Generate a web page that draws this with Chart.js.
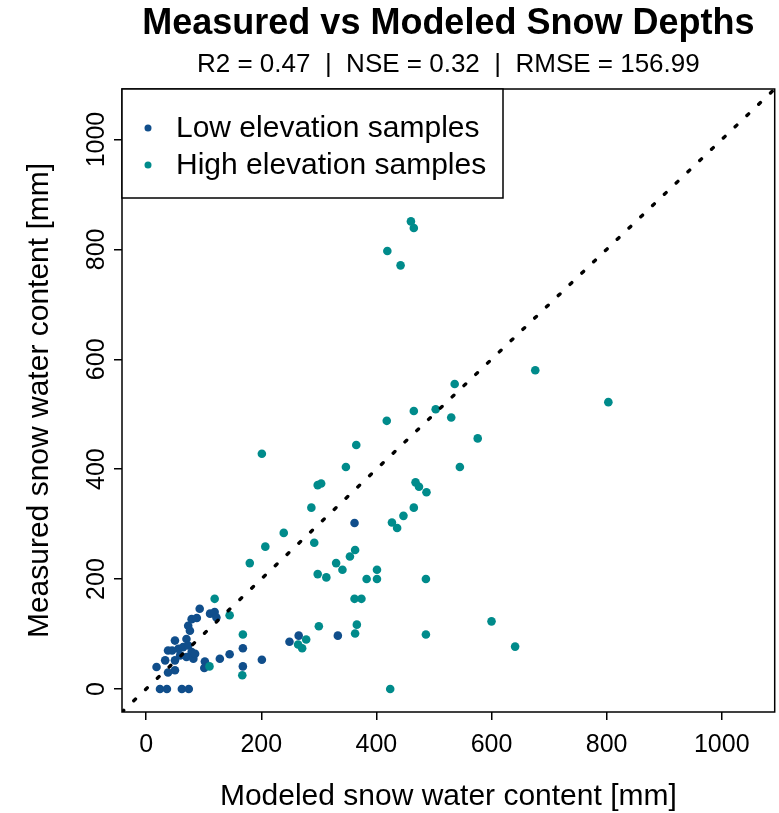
<!DOCTYPE html>
<html>
<head>
<meta charset="utf-8">
<script src="https://cdn.jsdelivr.net/npm/chart.js@4.4.1/dist/chart.umd.min.js"></script>
<style>
  html, body { margin: 0; padding: 0; background: #ffffff; }
  #wrap { width: 779px; height: 813px; }
</style>
</head>
<body>
<div id="wrap"><canvas id="c" width="779" height="813"></canvas></div>
<script>
// Labels
const chartTitle = 'Measured vs Modeled Snow Depths';
const chartSubtitle = 'R2 = 0.47  |  NSE = 0.32  |  RMSE = 156.99';
const xTitle = 'Modeled snow water content [mm]';
const yTitle = 'Measured snow water content [mm]';
const seriesNames = ['Low elevation samples', 'High elevation samples'];

// Axis ticks and range (same for both axes, 1:1 line spans the whole range)
const tickValues = [0, 200, 400, 600, 800, 1000];
const axisRange = [-42, 1092];

// Low elevation samples: modeled vs measured SWE [mm]
const lowModeled  = [18, 24, 36, 62, 74, 38, 50, 33, 50, 59, 70, 82, 38, 45, 56, 64, 79, 85, 50, 70,
                     73, 73, 76, 79, 88, 93, 111, 119, 122, 102, 101, 128, 145, 168, 168, 201, 249, 265, 333, 362];
const lowMeasured = [40, 0, 0, 0, 0, 30, 34, 52, 52, 61, 58, 55, 70, 70, 73, 76, 67, 64, 88, 91,
                     79, 115, 106, 127, 129, 146, 137, 140, 130, 50, 38, 55, 63, 74, 41, 53, 86, 97, 97, 302];

// High elevation samples: modeled vs measured SWE [mm]
const highModeled  = [119, 145, 168, 110, 167, 298, 304, 287, 239, 207, 180, 292, 363, 354, 330, 341, 298, 313, 383, 401,
                      401, 486, 362, 374, 300, 366, 363, 278, 264, 271, 486, 424, 468, 474, 487, 465, 447, 427, 436, 465,
                      418, 365, 201, 347, 460, 465, 442, 419, 536, 676, 803, 503, 530, 576, 545, 600, 641];
const highMeasured = [164, 134, 99, 41, 25, 371, 374, 330, 284, 259, 229, 266, 253, 241, 229, 217, 209, 203, 200, 217,
                      200, 200, 164, 164, 114, 117, 101, 90, 81, 74, 99, 0, 376, 368, 358, 330, 315, 303, 293, 506,
                      488, 444, 428, 404, 851, 839, 771, 797, 555, 580, 522, 509, 494, 456, 404, 123, 77];

const colLow = '#104E8B';
const colHigh = '#008B8B';
const FONT = "'Liberation Sans', Arial, Helvetica, sans-serif";

const toPoints = (xs, ys) => xs.map((x, i) => ({ x: x, y: ys[i] }));

// Plot frame, titles and legend box drawn on top of the chart
const framePlugin = {
  id: 'frame',
  afterDraw(chart) {
    const ctx = chart.ctx;
    const a = chart.chartArea;
    ctx.save();
    // full box around the plot region
    ctx.strokeStyle = '#000';
    ctx.lineWidth = 1.5;
    ctx.strokeRect(a.left, a.top, a.right - a.left, a.bottom - a.top);

    // title and subtitle centred over the plot region
    const cx = (a.left + a.right) / 2;
    ctx.fillStyle = '#000';
    ctx.textAlign = 'center';
    ctx.textBaseline = 'middle';
    ctx.font = 'bold 36px ' + FONT;
    ctx.fillText(chartTitle, cx, 24);
    ctx.font = '26px ' + FONT;
    ctx.fillText(chartSubtitle, cx, 65);

    // legend in the top-left corner
    const lx = a.left, ly = a.top, lw = 381, lh = 109;
    ctx.fillStyle = '#fff';
    ctx.fillRect(lx, ly, lw, lh);
    ctx.strokeStyle = '#000';
    ctx.lineWidth = 1.5;
    ctx.strokeRect(lx, ly, lw, lh);
    const rows = [[seriesNames[0], colLow, 39], [seriesNames[1], colHigh, 76]];
    ctx.font = '30px ' + FONT;
    ctx.textAlign = 'left';
    rows.forEach(([label, col, dy]) => {
      ctx.fillStyle = col;
      ctx.beginPath();
      ctx.arc(lx + 26, ly + dy, 3.5, 0, Math.PI * 2);
      ctx.fill();
      ctx.fillStyle = '#000';
      ctx.fillText(label, lx + 54, ly + dy + 1);
    });
    ctx.restore();
  }
};

const axisCommon = {
  type: 'linear',
  min: axisRange[0],
  max: axisRange[1],
  border: { display: false },
  grid: { drawOnChartArea: false, drawTicks: true, tickLength: 8, color: '#000', lineWidth: 1.5 },
  afterBuildTicks: (scale) => { scale.ticks = tickValues.map(v => ({ value: v })); }
};

new Chart(document.getElementById('c'), {
  type: 'scatter',
  data: {
    datasets: [
      {
        type: 'line',
        label: '1:1',
        data: [{ x: axisRange[0], y: axisRange[0] }, { x: axisRange[1], y: axisRange[1] }],
        borderColor: '#000',
        borderWidth: 3.4,
        borderDash: [2.4, 13.9],
        borderCapStyle: 'round',
        pointRadius: 0,
        fill: false
      },
      {
        label: seriesNames[1],
        data: toPoints(highModeled, highMeasured),
        backgroundColor: colHigh,
        borderWidth: 0,
        pointRadius: 4.3
      },
      {
        label: seriesNames[0],
        data: toPoints(lowModeled, lowMeasured),
        backgroundColor: colLow,
        borderWidth: 0,
        pointRadius: 4.3
      }
    ]
  },
  options: {
    responsive: false,
    devicePixelRatio: 1,
    animation: false,
    layout: { padding: { top: 89, right: 3, bottom: 0, left: 0 } },
    plugins: {
      legend: { display: false },
      title: { display: false },
      tooltip: { enabled: false }
    },
    scales: {
      x: Object.assign({}, axisCommon, {
        position: 'bottom',
        afterFit: (scale) => { scale.height = 101; },
        ticks: {
          color: '#000',
          font: { family: FONT, size: 25 },
          padding: 10,
          maxRotation: 0,
          minRotation: 0,
          callback: (v) => String(v)
        },
        title: {
          display: true,
          text: xTitle,
          color: '#000',
          font: { family: FONT, size: 30 },
          padding: { top: 0, bottom: -2 }
        }
      }),
      y: Object.assign({}, axisCommon, {
        position: 'left',
        afterFit: (scale) => { scale.width = 122; },
        ticks: {
          color: '#000',
          font: { family: FONT, size: 25 },
          padding: -11,
          minRotation: 90,
          maxRotation: 90,
          crossAlign: 'center',
          callback: (v) => String(v)
        },
        title: {
          display: true,
          text: yTitle,
          color: '#000',
          font: { family: FONT, size: 30 },
          padding: { top: 22, bottom: 0 }
        }
      })
    }
  },
  plugins: [framePlugin]
});
</script>
</body>
</html>
